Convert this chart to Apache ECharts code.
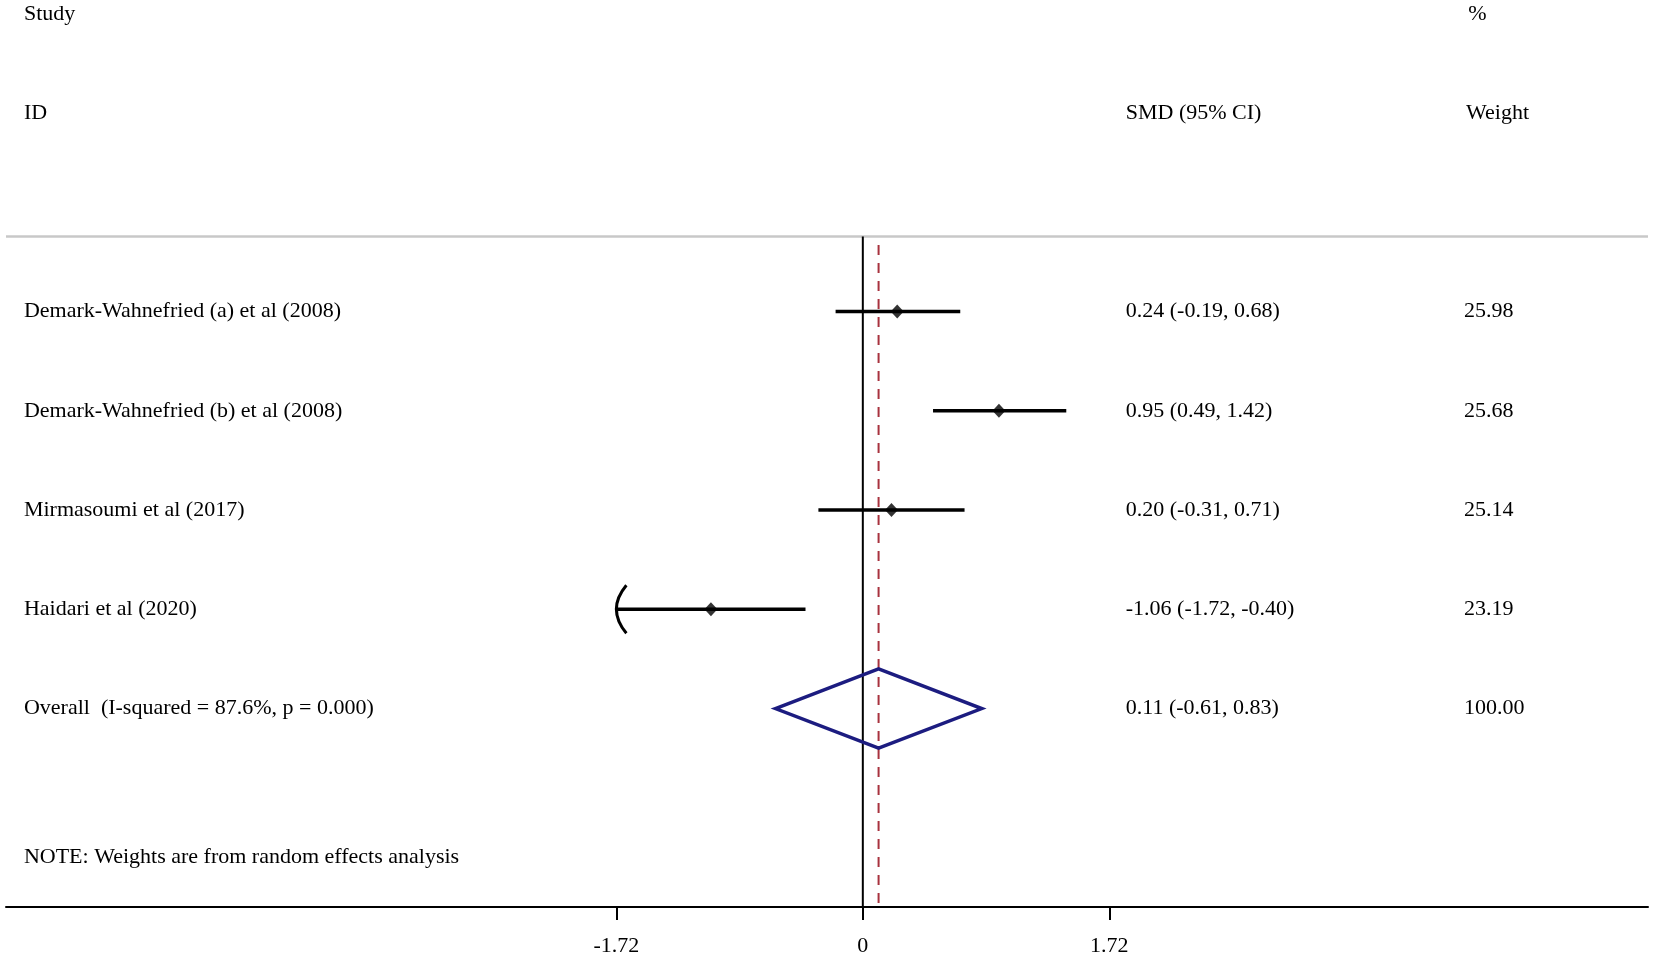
<!DOCTYPE html>
<html>
<head>
<meta charset="utf-8">
<script src="https://cdn.jsdelivr.net/npm/echarts@6/dist/echarts.min.js"></script>
<style>
html,body{margin:0;padding:0;background:#fff;}
#chart{width:1654px;height:958px;}
</style>
</head>
<body>
<div id="chart"></div>
<script>
// ---- data ----
const studies = [
  "Demark-Wahnefried (a) et al (2008)",
  "Demark-Wahnefried (b) et al (2008)",
  "Mirmasoumi et al (2017)",
  "Haidari et al (2020)"
];
const smd = [0.24, 0.95, 0.20, -1.06];
const lower = [-0.19, 0.49, -0.31, -1.72];
const upper = [0.68, 1.42, 0.71, -0.40];
const weights = ["25.98", "25.68", "25.14", "23.19"];
const overallLabel = "Overall  (I-squared = 87.6%, p = 0.000)";
const overallEst = 0.11;
const overallLower = -0.61;
const overallUpper = 0.83;
const overallWeight = "100.00";
const note = "NOTE: Weights are from random effects analysis";
const tickValues = [-1.72, 0, 1.72];

// ---- layout constants ----
const XMIN = -5.98, XMAX = 5.48;
const YMIN = -2.14, YMAX = 7.0;
const COL_STUDY = -5.855, COL_SMD = 1.835, COL_WT = 4.195;
const SEP_Y = 0.243;
const FONT = '"Liberation Serif", "Times New Roman", serif';
const FS = 22;

const f2 = v => v.toFixed(2);

// text items: [x, y, text]
const texts = [
  [COL_STUDY, -2, "Study"],
  [COL_STUDY, -1, "ID"],
  [COL_SMD, -1, "SMD (95% CI)"],
  [COL_WT + 0.03, -2, "%"],
  [COL_WT + 0.015, -1, "Weight"]
];
studies.forEach((s, i) => {
  texts.push([COL_STUDY, i + 1, s]);
  texts.push([COL_SMD, i + 1, `${f2(smd[i])} (${f2(lower[i])}, ${f2(upper[i])})`]);
  texts.push([COL_WT, i + 1, weights[i]]);
});
const ovRow = studies.length + 1;
texts.push([COL_STUDY, ovRow, overallLabel]);
texts.push([COL_SMD, ovRow, `${f2(overallEst)} (${f2(overallLower)}, ${f2(overallUpper)})`]);
texts.push([COL_WT, ovRow, overallWeight]);
texts.push([COL_STUDY, 6.5, note]);

const ciData = studies.map((s, i) => [lower[i], upper[i], i + 1]);
const pointData = studies.map((s, i) => [smd[i], i + 1]);
const CLIP_LO = tickValues[0];

const chart = echarts.init(document.getElementById('chart'), null, {renderer: 'canvas'});
chart.setOption({
  animation: false,
  backgroundColor: '#fff',
  grid: {left: 6, right: 6, top: 0, bottom: 51, containLabel: false},
  xAxis: {
    type: 'value', min: XMIN, max: XMAX, position: 'bottom',
    splitLine: {show: false},
    axisLine: {show: true, onZero: false, lineStyle: {color: '#000', width: 2}},
    axisTick: {show: true, customValues: tickValues, length: 13, lineStyle: {color: '#000', width: 2}},
    axisLabel: {
      show: true, customValues: tickValues, margin: 28,
      color: '#000', fontFamily: FONT, fontSize: FS,
      formatter: v => (v === 0 ? '0' : f2(v))
    }
  },
  yAxis: {type: 'value', inverse: true, min: YMIN, max: YMAX, show: false},
  series: [
    {
      // reference lines: separator, zero line, overall dashed line
      type: 'custom', silent: true, z: 1,
      data: [[0]],
      renderItem: (params, api) => {
        const s0 = api.coord([XMIN, SEP_Y]);
        const s1 = api.coord([XMAX, SEP_Y]);
        const z0 = api.coord([0, SEP_Y]);
        const z1 = api.coord([0, YMAX]);
        const d0 = api.coord([overallEst, 0.33]);
        const d1 = api.coord([overallEst, YMAX]);
        return {
          type: 'group',
          children: [
            {type: 'line', shape: {x1: s0[0], y1: s0[1], x2: s1[0], y2: s1[1]},
             style: {stroke: '#c8c8c8', lineWidth: 2.5}},
            {type: 'line', shape: {x1: z0[0], y1: z0[1], x2: z1[0], y2: z1[1]},
             style: {stroke: '#000', lineWidth: 2}},
            {type: 'line', shape: {x1: d0[0], y1: d0[1], x2: d1[0], y2: d1[1]},
             style: {stroke: '#a8323e', lineWidth: 2, lineDash: [10, 8]}}
          ]
        };
      }
    },
    {
      // confidence intervals
      type: 'custom', silent: true, z: 3,
      data: ciData,
      renderItem: (params, api) => {
        const lo = api.value(0), hi = api.value(1), y = api.value(2);
        const p0 = api.coord([lo, y]);
        const p1 = api.coord([hi, y]);
        const children = [
          {type: 'line', shape: {x1: p0[0], y1: p0[1], x2: p1[0], y2: p1[1]},
           style: {stroke: '#000', lineWidth: 3.5}}
        ];
        if (lo <= CLIP_LO + 1e-9) {
          children.push({
            type: 'bezierCurve',
            shape: {x1: p0[0] + 10, y1: p0[1] - 24, x2: p0[0] + 10, y2: p0[1] + 24, cpx1: p0[0] - 10, cpy1: p0[1]},
            style: {stroke: '#000', lineWidth: 3, fill: null}
          });
        }
        return {type: 'group', children};
      }
    },
    {
      type: 'scatter', silent: true, z: 4,
      symbol: 'diamond', symbolSize: [13, 14],
      itemStyle: {color: '#000'},
      data: pointData
    },
    {
      // overall diamond
      type: 'custom', silent: true, z: 4,
      data: [[overallLower, overallEst, overallUpper, ovRow]],
      renderItem: (params, api) => {
        const lo = api.value(0), est = api.value(1), hi = api.value(2), y = api.value(3);
        const pts = [
          api.coord([lo, y]), api.coord([est, y - 0.4]),
          api.coord([hi, y]), api.coord([est, y + 0.4])
        ];
        return {type: 'polygon', shape: {points: pts},
                style: {stroke: '#1c1c80', lineWidth: 3.5, fill: null}};
      }
    },
    {
      // texts
      type: 'custom', silent: true, z: 5,
      data: texts,
      renderItem: (params, api) => {
        const p = api.coord([api.value(0), api.value(1)]);
        return {
          type: 'text',
          style: {
            x: p[0], y: p[1], text: texts[params.dataIndex][2],
            fill: '#000', fontFamily: FONT, fontSize: FS,
            align: 'left', verticalAlign: 'middle'
          }
        };
      }
    }
  ]
});
</script>
</body>
</html>
